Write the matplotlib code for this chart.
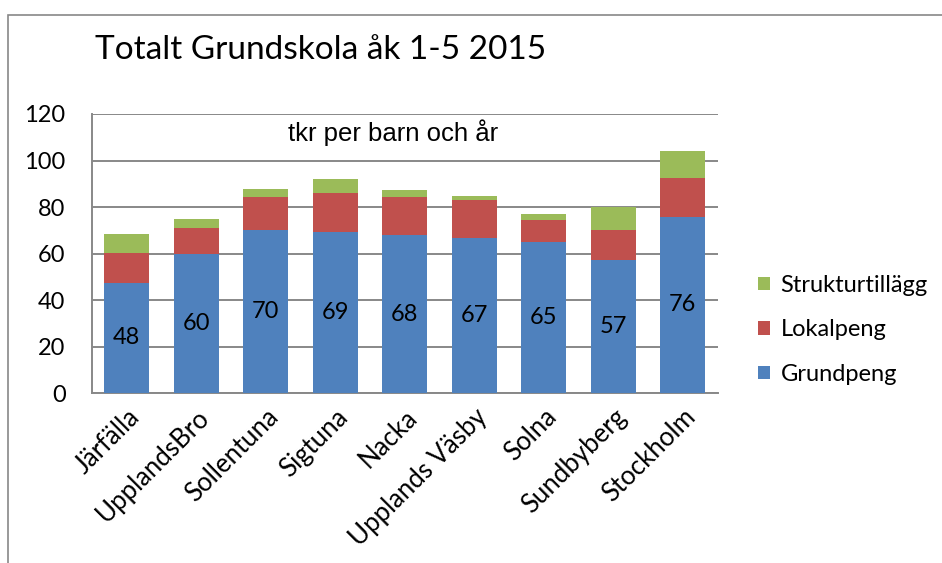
import matplotlib
matplotlib.use("Agg")
import matplotlib.pyplot as plt
import numpy as np
from matplotlib.patches import Rectangle

kommuner = ["Järfälla", "UpplandsBro", "Sollentuna", "Sigtuna", "Nacka",
            "Upplands Väsby", "Solna", "Sundbyberg", "Stockholm"]
grundpeng = [47.6, 59.8, 70.3, 69.1, 68.1, 66.9, 65.0, 57.1, 75.9]
lokalpeng = [12.8, 11.3, 14.0, 16.9, 16.2, 16.1, 9.4, 13.0, 16.4]
strukturtillagg = [8.0, 3.7, 3.6, 5.9, 3.1, 1.6, 2.7, 10.0, 11.6]

font_main = ["Lato", "DejaVu Sans"]
plt.rcParams['font.family'] = font_main

fig = plt.figure(figsize=(9.42, 5.63), dpi=100)
# outer frame, like the chart border in excel
fig.patches.append(Rectangle((8/942, -0.1), 1.0, (563-15)/563 + 0.1,
                             transform=fig.transFigure, fill=False,
                             edgecolor="#888888", lw=1.2))

ax = fig.add_axes([92/942, (563-393.3)/563, 625.5/942, 279.3/563])
x = np.arange(len(kommuner))
w = 0.65
b1 = ax.bar(x, grundpeng, w, color="#4F81BD", label="Grundpeng", zorder=3)
b2 = ax.bar(x, lokalpeng, w, bottom=grundpeng, color="#C0504D",
            label="Lokalpeng", zorder=3)
bot = np.array(grundpeng) + np.array(lokalpeng)
b3 = ax.bar(x, strukturtillagg, w, bottom=bot, color="#9BBB59",
            label="Strukturtillägg", zorder=3)

for xi, g in zip(x, grundpeng):
    ax.text(xi, g / 2, "%.0f" % g, ha="center", va="center", fontsize=17,
            color="black", zorder=4)

ax.set_xlim(-0.5, len(kommuner) - 0.5)
ax.set_ylim(0, 120)
ax.set_yticks(range(0, 121, 20))
ax.yaxis.grid(True, color="#888888", lw=1.4, zorder=0)
ax.tick_params(axis="y", length=0, labelsize=17, pad=19)
ax.tick_params(axis="x", length=0, labelsize=18.5, pad=8)
ax.set_xticks(x)
ax.set_xticklabels(kommuner, rotation=45, ha="right", rotation_mode="anchor")
for s in ["top", "right"]:
    ax.spines[s].set_visible(False)
for s in ["left", "bottom"]:
    ax.spines[s].set_color("#888888")
    ax.spines[s].set_linewidth(1.4)

ax.text(0.481, 0.932, "tkr per barn och år", transform=ax.transAxes,
        ha="center", va="center", fontsize=18.5, family=["Liberation Sans"])

fig.text(95/942, 1 - 50/563, "Totalt Grundskola åk 1-5 2015", fontsize=24,
         ha="left", va="center")

handles = [b3, b2, b1]
fig.legend(handles, [h.get_label() for h in handles], loc="center left",
           bbox_to_anchor=(737/942, 1 - 330/563), frameon=False, fontsize=17,
           handlelength=0.5, handleheight=0.5, labelspacing=1.0,
           handletextpad=0.45)

fig.savefig("out.png", dpi=100)
